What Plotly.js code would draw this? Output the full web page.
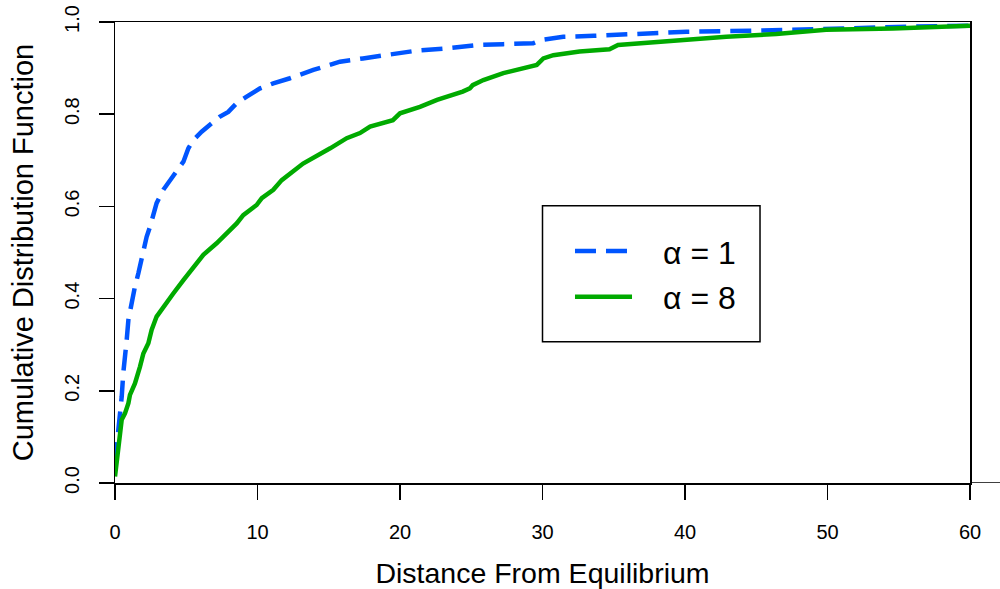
<!DOCTYPE html>
<html>
<head>
<meta charset="utf-8">
<script src="https://cdn.plot.ly/plotly-3.0.1.min.js"></script>
<style>html,body{margin:0;padding:0;background:#fff;}#chart{width:1000px;height:589px;}</style>
</head>
<body>
<div id="chart"></div>
<script>
// Empirical CDF, alpha = 1 (blue dashed)
const distA1 = [0, 0.12, 0.23, 0.35, 0.47, 0.58, 0.70, 0.82, 0.94, 1.17, 1.40, 1.64, 1.87, 1.99, 2.22, 2.46, 2.69, 2.92, 3.39, 3.86, 4.33, 4.80, 5.15, 5.5, 6.08, 6.67, 7.37, 7.95, 8.54, 9.24, 10.18, 11.11, 12.28, 13.92, 15.79, 17.4, 19.3, 21.2, 23.3, 25.4, 27.25, 29.35, 29.94, 31.46, 33.6, 35.7, 38.0, 40.1, 44.6, 49.0, 51.1, 55.6, 60];
const cdfA1  = [0.043, 0.079, 0.10, 0.144, 0.187, 0.238, 0.267, 0.31, 0.354, 0.397, 0.426, 0.455, 0.491, 0.505, 0.534, 0.556, 0.578, 0.607, 0.636, 0.657, 0.675, 0.697, 0.726, 0.744, 0.762, 0.777, 0.795, 0.805, 0.824, 0.838, 0.856, 0.867, 0.878, 0.896, 0.914, 0.921, 0.930, 0.938, 0.943, 0.950, 0.952, 0.954, 0.961, 0.968, 0.970, 0.973, 0.975, 0.979, 0.981, 0.983, 0.986, 0.990, 0.992];

// Empirical CDF, alpha = 8 (green solid)
const distA8 = [0, 0.12, 0.23, 0.35, 0.47, 0.70, 0.94, 1.05, 1.40, 1.75, 1.99, 2.34, 2.57, 2.92, 3.39, 4.09, 4.80, 5.5, 6.2, 7.13, 7.84, 8.54, 9.0, 9.94, 10.3, 11.11, 11.7, 12.28, 13.2, 15.1, 16.26, 17.19, 17.9, 19.5, 20.0, 21.4, 22.6, 24.4, 24.9, 25.1, 25.85, 27.25, 29.6, 30.06, 30.76, 32.6, 34.7, 35.3, 37.1, 38.95, 39.9, 42.9, 46.4, 49.9, 54.6, 60];
const cdfA8  = [0.014, 0.043, 0.072, 0.10, 0.137, 0.151, 0.173, 0.191, 0.216, 0.252, 0.281, 0.303, 0.332, 0.361, 0.382, 0.411, 0.440, 0.469, 0.495, 0.520, 0.542, 0.563, 0.581, 0.603, 0.618, 0.636, 0.657, 0.672, 0.693, 0.726, 0.748, 0.759, 0.773, 0.787, 0.802, 0.816, 0.831, 0.849, 0.856, 0.863, 0.874, 0.889, 0.907, 0.921, 0.928, 0.936, 0.941, 0.950, 0.954, 0.960, 0.961, 0.968, 0.974, 0.983, 0.986, 0.992];

const xTicks = [0, 10, 20, 30, 40, 50, 60];
const yTicks = [0, 0.2, 0.4, 0.6, 0.8, 1.0];
const yTickText = ['0.0', '0.2', '0.4', '0.6', '0.8', '1.0'];
const legendLabels = ['\u03B1 = 1', '\u03B1 = 8'];

const FONT = 'Liberation Sans, Arial, Helvetica, sans-serif';
const BLUE = '#0055ff';
const GREEN = '#00aa00';

const traces = [
  {x: distA1, y: cdfA1, type: 'scatter', mode: 'lines', name: legendLabels[0],
   line: {color: BLUE, width: 4.5, dash: '21px,10px'}, cliponaxis: false, showlegend: false},
  {x: distA8, y: cdfA8, type: 'scatter', mode: 'lines', name: legendLabels[1],
   line: {color: GREEN, width: 4.5}, cliponaxis: false, showlegend: false}
];

const layout = {
  width: 1000, height: 589,
  margin: {l: 115, r: 30, t: 22, b: 106},
  paper_bgcolor: '#fff', plot_bgcolor: '#fff',
  font: {family: FONT, color: '#000'},
  showlegend: false,
  xaxis: {
    range: [0, 60], tickvals: xTicks, ticktext: xTicks.map(String),
    ticks: 'outside', ticklen: 15, tickwidth: 1.5, tickcolor: '#000',
    showline: true, linecolor: '#000', linewidth: 1.5, mirror: true,
    showgrid: false, zeroline: false, automargin: false,
    tickfont: {size: 20, family: FONT}, ticklabelstandoff: 15,
    title: {text: 'Distance From Equilibrium', font: {size: 28.5, family: FONT}, standoff: 30}
  },
  yaxis: {
    range: [0, 1], tickvals: yTicks, ticktext: yTickText,
    ticks: 'outside', ticklen: 15, tickwidth: 1.5, tickcolor: '#000',
    showline: true, linecolor: '#000', linewidth: 1.5, mirror: true,
    showgrid: false, zeroline: false, automargin: false,
    tickangle: -90, tickfont: {size: 20, family: FONT}, ticklabelstandoff: 12,
    title: {text: 'Cumulative Distribution Function', font: {size: 29, family: FONT}, standoff: 18}
  },
  shapes: [
    // extension of the zero line to the right edge
    {type: 'line', xref: 'paper', yref: 'y', x0: 1, x1: 1.036, y0: 0, y1: 0, line: {color: '#000', width: 1.5}},
    // legend box
    {type: 'rect', xref: 'paper', yref: 'paper', x0: 0.500, x1: 0.7544, y0: 0.3065, y1: 0.6015,
     line: {color: '#000', width: 1.5}, fillcolor: 'rgba(0,0,0,0)'},
    // legend samples
    {type: 'line', xref: 'paper', yref: 'paper', x0: 0.538, x1: 0.600, y0: 0.503, y1: 0.503,
     line: {color: BLUE, width: 4.5, dash: '21px,10px'}},
    {type: 'line', xref: 'paper', yref: 'paper', x0: 0.538, x1: 0.6047, y0: 0.404, y1: 0.404,
     line: {color: GREEN, width: 4.5}}
  ],
  annotations: [
    {xref: 'paper', yref: 'paper', x: 0.639, y: 0.499, xanchor: 'left', yanchor: 'middle',
     text: legendLabels[0], showarrow: false, font: {size: 32, family: FONT, color: '#000'}},
    {xref: 'paper', yref: 'paper', x: 0.639, y: 0.401, xanchor: 'left', yanchor: 'middle',
     text: legendLabels[1], showarrow: false, font: {size: 32, family: FONT, color: '#000'}}
  ]
};

Plotly.newPlot('chart', traces, layout, {displayModeBar: false, staticPlot: true});
</script>
</body>
</html>
